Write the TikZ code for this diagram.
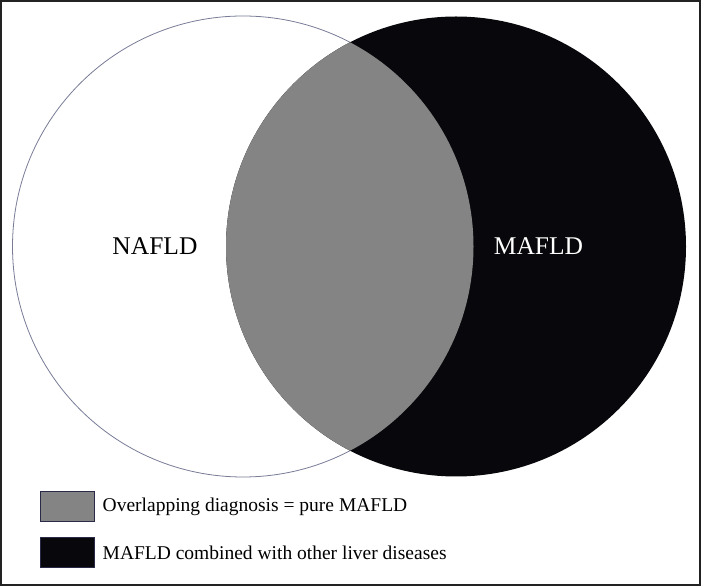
\documentclass[tikz,border=0pt]{standalone}
\usepackage{fontspec}
\setmainfont{Liberation Serif}
\usepackage{tikz}
\usetikzlibrary{positioning}

\definecolor{overlapgray}{RGB}{132,132,132}
\definecolor{nearblack}{RGB}{8,8,12}
\definecolor{rimblue}{RGB}{120,124,150}
\definecolor{boxrim}{RGB}{40,42,72}
\definecolor{framegray}{RGB}{34,34,34}

\begin{document}
\begin{tikzpicture}[x=1pt, y=1pt,
        setlabel/.style={font=\fontsize{25.5}{30}\selectfont, inner sep=0pt},
        keybox/.style={rectangle, draw=boxrim, line width=1pt, minimum width=54pt, minimum height=30pt, inner sep=0pt},
        keytext/.style={font=\fontsize{19.5}{23}\selectfont, inner sep=0pt}
      ]
        \useasboundingbox (0,0) rectangle (701,586);
        \coordinate (nafldc) at (243,339.5);
        \coordinate (mafldc) at (456,339.5);

        \draw[rimblue, line width=0.8pt, fill=white] (nafldc) circle (230.5);
        \fill[nearblack] (mafldc) circle (230);
        \begin{scope}
          \clip (nafldc) circle (230.5);
          \fill[overlapgray] (mafldc) circle (230);
        \end{scope}

        \node[setlabel]              (nafld)    at (155,340)   {NAFLD};
        \node[setlabel, text=white]  (mafld)    at (538.5,340) {MAFLD};

        \node[keybox, fill=overlapgray] (key1)   at (67,79)     {};
        \node[keytext]               (key1text) [right=8pt of key1] {Overlapping diagnosis = pure MAFLD};
        \node[keybox, fill=nearblack]   (key2)   at (67,33)     {};
        \node[keytext]               (key2text) [right=8pt of key2] {MAFLD combined with other liver diseases};

        \draw[framegray, line width=2pt] (1,1) rectangle (700,585);
      \end{tikzpicture}
\end{document}
